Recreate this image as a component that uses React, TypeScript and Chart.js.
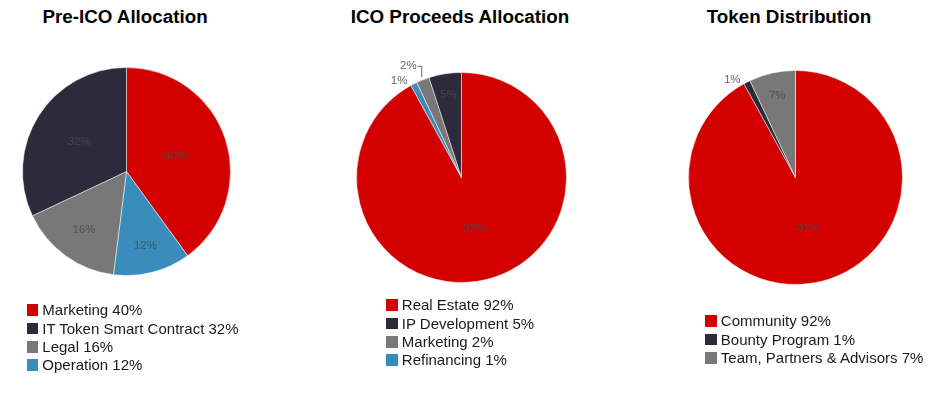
import React, { useEffect, useRef } from 'react';
import { Chart, registerables } from 'chart.js';

Chart.register(...registerables);

// ---- colours ----
const RED = '#d30000';
const DARK = '#2c2a3b';
const GRAY = '#787878';
const BLUE = '#3a8cbd';

// ---- data (slice order = clockwise from 12 o'clock) ----
const preIcoTitle = 'Pre-ICO Allocation';
const preIcoLabels = ['Marketing', 'Operation', 'Legal', 'IT Token Smart Contract'];
const preIcoValues = [40, 12, 16, 32];
const preIcoColors = [RED, BLUE, GRAY, DARK];
const preIcoLegendOrder = [0, 3, 2, 1];

const proceedsTitle = 'ICO Proceeds Allocation';
const proceedsLabels = ['Real Estate', 'Refinancing', 'Marketing', 'IP Development'];
const proceedsValues = [92, 1, 2, 5];
const proceedsColors = [RED, BLUE, GRAY, DARK];
const proceedsLegendOrder = [0, 3, 2, 1];

const tokenTitle = 'Token Distribution';
const tokenLabels = ['Community', 'Bounty Program', 'Team, Partners & Advisors'];
const tokenValues = [92, 1, 7];
const tokenColors = [RED, DARK, GRAY];
const tokenLegendOrder = [0, 1, 2];

// ---- layout (positions only) ----
const PAD = 40;
const ROW = 18.4;
const FONT = '"Liberation Sans", Arial, Helvetica, sans-serif';

const sliceLabelPlugin = {
  id: 'sliceLabels',
  afterDatasetsDraw(chart: any) {
    const ctx = chart.ctx;
    const meta = chart.getDatasetMeta(0);
    const values: number[] = chart.data.datasets[0].data;
    const total = values.reduce((a, b) => a + b, 0);
    let prevOutsideY: number | null = null;
    ctx.save();
    ctx.font = '11.5px ' + FONT;
    ctx.textBaseline = 'middle';
    meta.data.forEach((arc: any, i: number) => {
      const { x, y, startAngle, endAngle, outerRadius } = arc.getProps(
        ['x', 'y', 'startAngle', 'endAngle', 'outerRadius'],
        true
      );
      const span = endAngle - startAngle;
      const deg = (span * 180) / Math.PI;
      const mid = (startAngle + endAngle) / 2;
      const text = Math.round((values[i] / total) * 100) + '%';
      if (deg >= 10) {
        const frac = Math.max(0.5, 0.85 - 0.0027 * deg);
        const lx = x + Math.cos(mid) * outerRadius * frac;
        const ly = y + Math.sin(mid) * outerRadius * frac;
        ctx.fillStyle = 'rgba(75,75,80,0.82)';
        ctx.textAlign = 'center';
        ctx.fillText(text, lx, ly);
      } else {
        const ax = x + Math.cos(mid) * (outerRadius + 3);
        const ay = y + Math.sin(mid) * (outerRadius + 3);
        const left = Math.cos(mid) < 0;
        const tx = left ? ax - 5 : ax + 5;
        let ty = ay;
        ctx.textAlign = left ? 'right' : 'left';
        if (prevOutsideY !== null && Math.abs(ty - prevOutsideY) < 13) {
          ty = prevOutsideY - 15;
          ctx.strokeStyle = '#666';
          ctx.lineWidth = 1;
          ctx.beginPath();
          ctx.moveTo(tx + (left ? 1 : -1), ty);
          ctx.lineTo(ax, ty);
          ctx.lineTo(ax, ay);
          ctx.stroke();
        }
        ctx.fillStyle = '#666';
        ctx.fillText(text, tx, ty);
        prevOutsideY = ty;
      }
    });
    ctx.restore();
  },
};

type PieProps = {
  title: string;
  labels: string[];
  values: number[];
  colors: string[];
  legendOrder: number[];
  cx: number;
  cy: number;
  r: number;
  titleX: number;
  legendX: number;
  legendY: number;
};

function PieBlock(p: PieProps) {
  const ref = useRef<HTMLCanvasElement>(null);
  const size = Math.round(2 * p.r + 2 * PAD + 1);
  const left = p.cx - size / 2;
  const top = p.cy - size / 2;

  useEffect(() => {
    if (!ref.current) return;
    const chart = new Chart(ref.current, {
      type: 'pie',
      data: {
        labels: p.labels,
        datasets: [
          {
            data: p.values,
            backgroundColor: p.colors,
            borderColor: 'rgba(255,255,255,0.5)',
            borderWidth: 1,
          },
        ],
      },
      options: {
        responsive: false,
        animation: false,
        layout: { padding: PAD },
        plugins: {
          legend: { display: false },
          tooltip: { enabled: false },
          title: { display: false },
        },
      },
      plugins: [sliceLabelPlugin],
    });
    return () => chart.destroy();
  }, []);

  return (
    <>
      <div
        style={{
          position: 'absolute',
          left: p.titleX,
          top: 6.3,
          transform: 'translateX(-50%)',
          whiteSpace: 'nowrap',
          font: `bold 18.8px/22px ${FONT}`,
          color: '#000',
        }}
      >
        {p.title}
      </div>
      <canvas
        ref={ref}
        width={size}
        height={size}
        style={{ position: 'absolute', left, top, width: size, height: size }}
      />
      {p.legendOrder.map((idx, row) => {
        const c = p.legendY + row * ROW;
        return (
          <div
            key={idx}
            style={{
              position: 'absolute',
              left: p.legendX,
              top: c - 8.8,
              height: 18,
              whiteSpace: 'nowrap',
              font: `15px/18px ${FONT}`,
              color: '#1a1a1a',
            }}
          >
            <span
              style={{
                position: 'absolute',
                left: 0,
                top: 3,
                width: 11.5,
                height: 11.5,
                background: p.colors[idx],
              }}
            />
            <span style={{ position: 'absolute', left: 15.8, top: 0 }}>
              {`${p.labels[idx]} ${p.values[idx]}%`}
            </span>
          </div>
        );
      })}
    </>
  );
}

export default function App() {
  return (
    <div
      style={{
        position: 'absolute',
        left: 0,
        top: 0,
        width: 933,
        height: 403,
        background: '#fff',
        overflow: 'hidden',
      }}
    >
      <PieBlock
        title={preIcoTitle}
        labels={preIcoLabels}
        values={preIcoValues}
        colors={preIcoColors}
        legendOrder={preIcoLegendOrder}
        cx={126.5}
        cy={171}
        r={104.2}
        titleX={125}
        legendX={26.5}
        legendY={310}
      />
      <PieBlock
        title={proceedsTitle}
        labels={proceedsLabels}
        values={proceedsValues}
        colors={proceedsColors}
        legendOrder={proceedsLegendOrder}
        cx={461.3}
        cy={177.7}
        r={105.2}
        titleX={460}
        legendX={386}
        legendY={305}
      />
      <PieBlock
        title={tokenTitle}
        labels={tokenLabels}
        values={tokenValues}
        colors={tokenColors}
        legendOrder={tokenLegendOrder}
        cx={795.5}
        cy={177.8}
        r={107.2}
        titleX={789}
        legendX={705}
        legendY={321}
      />
    </div>
  );
}
